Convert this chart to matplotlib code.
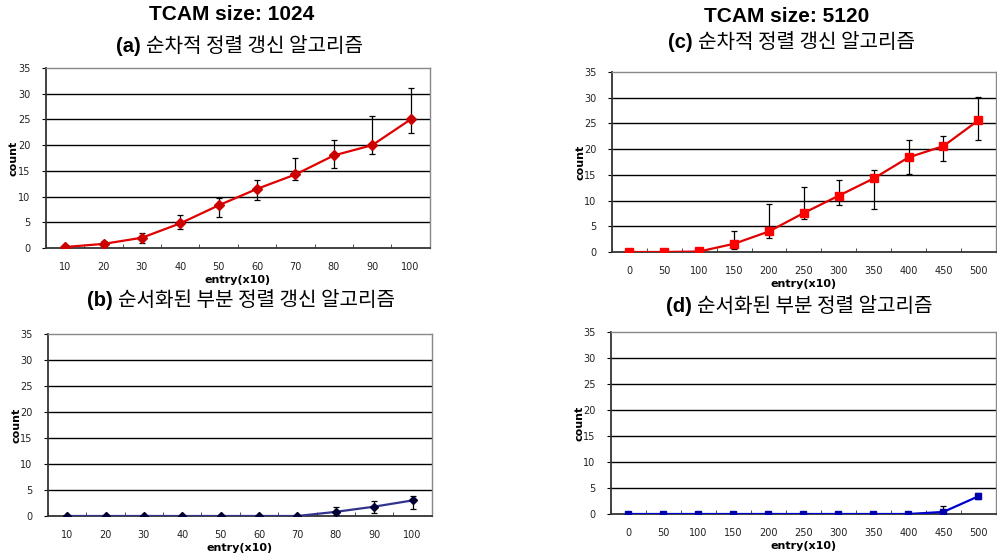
import matplotlib
matplotlib.use("Agg")
import matplotlib.pyplot as plt
import numpy as np

plt.rcParams['font.family'] = ['Noto Sans CJK KR', 'DejaVu Sans']

# ---- data ----
cats_a = ["10", "20", "30", "40", "50", "60", "70", "80", "90", "100"]
vals_a = [0.2, 0.8, 2.0, 4.8, 8.3, 11.5, 14.3, 18.0, 20.0, 25.0]
low_a = [0.0, 0.5, 1.0, 3.7, 6.0, 9.4, 13.2, 15.6, 18.2, 22.4]
high_a = [0.4, 1.3, 3.0, 6.5, 9.8, 13.2, 17.5, 21.0, 25.7, 31.1]

cats_b = cats_a
vals_b = [0, 0, 0, 0, 0, 0, 0, 0.8, 1.8, 3.0]
low_b = [0, 0, 0, 0, 0, 0, 0, 0.1, 0.5, 1.4]
high_b = [0, 0, 0, 0, 0, 0, 0, 1.7, 2.9, 3.9]

cats_c = ["0", "50", "100", "150", "200", "250", "300", "350", "400", "450", "500"]
vals_c = [0.0, 0.0, 0.1, 1.6, 4.0, 7.6, 10.95, 14.3, 18.4, 20.6, 25.6]
low_c = [0.0, 0.0, 0.0, 0.65, 2.7, 6.4, 9.1, 8.3, 15.1, 17.7, 21.8]
high_c = [0.0, 0.0, 0.2, 4.1, 9.3, 12.6, 14.0, 15.9, 21.7, 22.6, 30.1]

cats_d = cats_c
vals_d = [0, 0, 0, 0, 0, 0, 0, 0, 0, 0.4, 3.4]
low_d = [0, 0, 0, 0, 0, 0, 0, 0, 0, 0.0, 2.8]
high_d = [0, 0, 0, 0, 0, 0, 0, 0, 0, 1.6, 4.0]

y_ticks = [0, 5, 10, 15, 20, 25, 30, 35]

fig = plt.figure(figsize=(9.97, 5.53), dpi=100)


def panel(rect, cats, vals, low, high, line_color, mk_color, marker, msize, ylab_x):
    ax = fig.add_axes(rect)
    x = np.arange(len(cats))
    vals = np.array(vals, float)
    yerr = [vals - np.array(low, float), np.array(high, float) - vals]
    ax.set_xlim(-0.5, len(cats) - 0.5)
    ax.set_ylim(0, 35)
    for t in y_ticks[1:-1]:
        ax.axhline(t, color='black', lw=1.0, zorder=1)
    ax.errorbar(x, vals, yerr=yerr, fmt='none', ecolor='black', elinewidth=0.9,
                capsize=2.5, capthick=0.9, zorder=3)
    ax.plot(x, vals, color=line_color, lw=1.6, zorder=4)
    ax.plot(x, vals, linestyle='none', marker=marker, ms=msize, color=mk_color,
            mec=mk_color, zorder=5)
    ax.set_xticks(x)
    ax.set_xticklabels(cats, fontsize=7, color='#222222', family='DejaVu Sans')
    ax.set_xticks(np.arange(len(cats) + 1) - 0.5, minor=True)
    ax.tick_params(axis='x', which='major', length=0, pad=10)
    ax.tick_params(axis='x', which='minor', length=3, direction='in', color='#333333')
    ax.set_yticks(y_ticks)
    ax.set_yticklabels([str(t) for t in y_ticks], fontsize=7, color='#222222', family='DejaVu Sans')
    ax.tick_params(axis='y', length=3, direction='out', pad=8)
    for s in ['top', 'right']:
        ax.spines[s].set_color('#888888')
        ax.spines[s].set_linewidth(1.0)
    for s in ['left', 'bottom']:
        ax.spines[s].set_color('#333333')
        ax.spines[s].set_linewidth(1.3)
    ax.set_ylabel("count", fontsize=8, fontweight='bold', family='DejaVu Sans')
    ax.yaxis.set_label_coords(ylab_x, 0.5)
    ax.set_xlabel("entry(x10)", fontsize=8, fontweight='bold', family='DejaVu Sans', labelpad=2)
    return ax


ax_a = panel([0.0461, 0.5515, 0.385, 0.3255], cats_a, vals_a, low_a, high_a,
             '#E00000', '#CC0000', 'D', 5, -0.071)
ax_c = panel([0.6138, 0.5443, 0.385, 0.3255], cats_c, vals_c, low_c, high_c,
             '#E00000', '#FF0000', 's', 6, -0.070)
ax_b = panel([0.0481, 0.0669, 0.385, 0.329], cats_b, vals_b, low_b, high_b,
             '#33338F', '#000033', 'D', 4.5, -0.068)
ax_d = panel([0.6128, 0.0705, 0.386, 0.329], cats_d, vals_d, low_d, high_d,
             '#0000CC', '#0000AA', 's', 5, -0.070)


def px(x, y):
    return x / 997, 1 - y / 553


def title2(xsplit, y, lab, kor, size=14.5):
    fig.text(*px(xsplit, y), lab, ha='right', va='center', fontsize=size,
             fontweight='bold', family=['Liberation Sans', 'DejaVu Sans'])
    fig.text(*px(xsplit + 5, y), kor, ha='left', va='center', fontsize=size,
             family=['Noto Sans CJK KR', 'DejaVu Sans'])


fig.text(*px(232, 15), "TCAM size: 1024", ha='center', va='center', fontsize=15,
         fontweight='bold', family=['Liberation Sans', 'DejaVu Sans'])
fig.text(*px(787, 17), "TCAM size: 5120", ha='center', va='center', fontsize=15,
         fontweight='bold', family=['Liberation Sans', 'DejaVu Sans'])
title2(141, 47, "(a)", "순차적 정렬 갱신 알고리즘")
title2(693, 42, "(c)", "순차적 정렬 갱신 알고리즘")
title2(113, 300, "(b)", "순서화된 부분 정렬 갱신 알고리즘")
title2(692, 307, "(d)", "순서화된 부분 정렬 알고리즘")

fig.savefig("out.png", dpi=100)
